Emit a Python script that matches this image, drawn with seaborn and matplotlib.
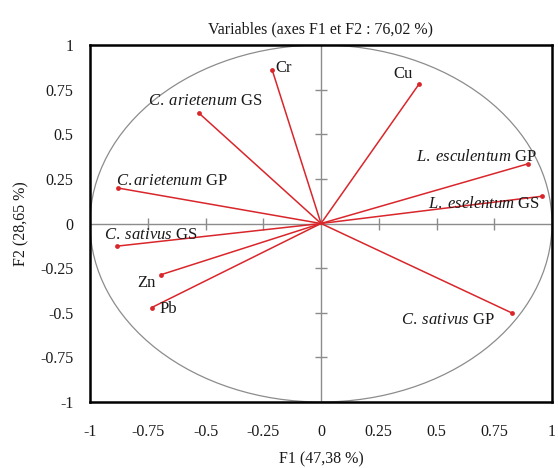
import numpy as np
import pandas as pd
import matplotlib
matplotlib.use("Agg")
import matplotlib.pyplot as plt
from matplotlib.patches import Ellipse
import seaborn as sns

# PCA loadings on the first two factors
variables = ["Cr", "Cu", "C. arietenum GS", "C.arietenum GP", "L. esculentum GP",
             "L. eselentum GS", "C. sativus GS", "Zn", "Pb", "C. sativus GP"]
f1 = [-0.211, 0.426, -0.528, -0.880, 0.895, 0.958, -0.884, -0.693, -0.733, 0.826]
f2 = [0.859, 0.784, 0.618, 0.199, 0.334, 0.153, -0.127, -0.287, -0.471, -0.501]

# label text (species names in italics) and placement relative to each point
label_text = [
    "Cr", "Cu",
    r"$\mathit{C.\;arietenum}$ GS",
    r"$\mathit{C.arietenum}$ GP",
    r"$\mathit{L.\;esculentum}$ GP",
    r"$\mathit{L.\;eselentum}$ GS",
    r"$\mathit{C.\;sativus}$ GS",
    "Zn", "Pb",
    r"$\mathit{C.\;sativus}$ GP",
]
label_dx = [3, -7, 6, -2, 9, -2, -13, -5, 8, -17]
label_dy = [2, 10, 12, 7, 7, -8, 11, -8, -1, -7]
label_ha = ["left", "right", "center", "left", "right", "right", "left", "right", "left", "right"]

ticks = [-1, -0.75, -0.5, -0.25, 0, 0.25, 0.5, 0.75, 1]
tick_labels = ["-1", "-0.75", "-0.5", "-0.25", "0", "0.25", "0.5", "0.75", "1"]

sns.set_theme(style="white")
plt.rcParams["font.family"] = ["Liberation Serif", "DejaVu Serif"]
plt.rcParams["mathtext.fontset"] = "custom"
plt.rcParams["mathtext.rm"] = "Liberation Serif"
plt.rcParams["mathtext.it"] = "Liberation Serif:italic"

red = "#d9262b"
grey = "#8c8c8c"

fig = plt.figure(figsize=(5.58, 4.68), dpi=100)
ax = fig.add_axes([90 / 558, 66 / 468, 462 / 558, 357 / 468])

# central axes with cross ticks
ax.axhline(0, color=grey, lw=1.0, zorder=1)
ax.axvline(0, color=grey, lw=1.0, zorder=1)
inner = [t for t in ticks if t not in (-1, 0, 1)]
ax.plot(inner, [0] * len(inner), ls="none", marker="|", ms=9, mew=1.0, color=grey, zorder=1)
ax.plot([0] * len(inner), inner, ls="none", marker="_", ms=9, mew=1.0, color=grey, zorder=1)

# correlation circle
ax.add_patch(Ellipse((0, 0), 2, 2, fill=False, ec=grey, lw=0.9, zorder=1))

# vectors from the origin
n = len(variables)
vec = pd.DataFrame({
    "var": variables * 2,
    "F1": [0.0] * n + f1,
    "F2": [0.0] * n + f2,
})
sns.lineplot(data=vec, x="F1", y="F2", units="var", estimator=None, sort=False,
             color=red, lw=1.1, ax=ax, zorder=2)
pts = pd.DataFrame({"var": variables, "F1": f1, "F2": f2})
sns.scatterplot(data=pts, x="F1", y="F2", color=red, s=12, edgecolor=red,
                linewidth=0, ax=ax, zorder=3, legend=False)

for x, y, t, dx, dy, ha in zip(f1, f2, label_text, label_dx, label_dy, label_ha):
    ax.annotate(t, (x, y), xytext=(dx, dy), textcoords="offset pixels",
                ha=ha, va="center", fontsize=12, color="#1a1a1a", zorder=4)

ax.set_xlim(-1, 1)
ax.set_ylim(-1, 1)
ax.set_xticks(ticks)
ax.set_xticklabels(tick_labels)
ax.set_yticks(ticks)
ax.set_yticklabels(tick_labels)
ax.tick_params(axis="x", length=0, pad=16, labelsize=11.5, labelcolor="#1a1a1a")
ax.tick_params(axis="y", length=0, pad=12, labelsize=11.5, labelcolor="#1a1a1a")
ax.set_xlabel("F1 (47,38 %)", fontsize=11.5, labelpad=8, color="#1a1a1a")
ax.set_ylabel("F2 (28,65 %)", fontsize=11.5, labelpad=8, color="#1a1a1a")
ax.set_title("Variables (axes F1 et F2 : 76,02 %)", fontsize=11.5, pad=8, color="#1a1a1a")
for s in ax.spines.values():
    s.set_color("black")
    s.set_linewidth(1.8)
ax.grid(False)

fig.savefig("out.png", dpi=100)
